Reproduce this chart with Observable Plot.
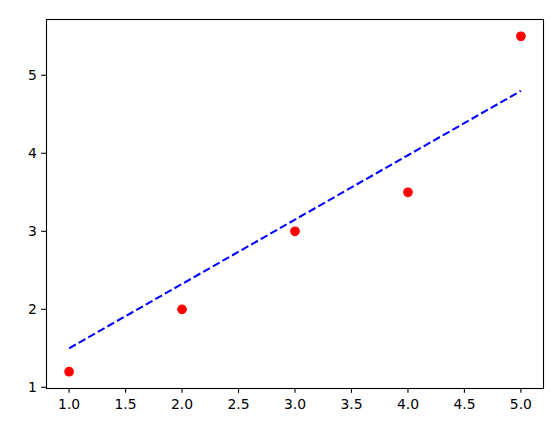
<!DOCTYPE html>
<html>
<head>
<meta charset="utf-8">
<script src="https://cdn.jsdelivr.net/npm/d3@7"></script>
<script src="https://cdn.jsdelivr.net/npm/@observablehq/plot@0.6"></script>
<style>
  html, body { margin: 0; padding: 0; background: #fff; }
</style>
</head>
<body>
<div id="chart"></div>
<script>
const xs = [1, 2, 3, 4, 5];
const pointsY = [1.2, 2, 3, 3.5, 5.5];
const lineY = [1.5, 2.325, 3.15, 3.975, 4.8];
const xTicks = [1.0, 1.5, 2.0, 2.5, 3.0, 3.5, 4.0, 4.5, 5.0];
const yTicks = [1, 2, 3, 4, 5];

const pts = xs.map((x, i) => ({x, y: pointsY[i]}));
const fit = xs.map((x, i) => ({x, y: lineY[i]}));

const chart = Plot.plot({
  width: 559,
  height: 429,
  marginLeft: 46,
  marginRight: 16,
  marginTop: 19,
  marginBottom: 41,
  style: {fontFamily: "DejaVu Sans", fontSize: "13.9px", color: "#000", background: "#fff"},
  x: {domain: [0.8, 5.2], label: null},
  y: {domain: [0.985, 5.715], label: null},
  marks: [
    Plot.line(fit, {x: "x", y: "y", stroke: "blue", strokeWidth: 2.08, strokeDasharray: "7.7,3.33", strokeLinecap: "butt"}),
    Plot.dot(pts, {x: "x", y: "y", r: 4.17, fill: "red", stroke: "red", strokeWidth: 1.39}),
    Plot.frame({stroke: "black", strokeWidth: 1.1}),
    Plot.axisX({ticks: xTicks, tickFormat: d3.format(".1f"), tickSize: 4.86, tickPadding: 5.5, strokeWidth: 1.1, label: null, fontSize: 13.9}),
    Plot.axisY({ticks: yTicks, tickFormat: d3.format("d"), tickSize: 4.86, tickPadding: 4.86, strokeWidth: 1.1, label: null, fontSize: 13.9})
  ]
});
document.getElementById("chart").appendChild(chart);
</script>
</body>
</html>
